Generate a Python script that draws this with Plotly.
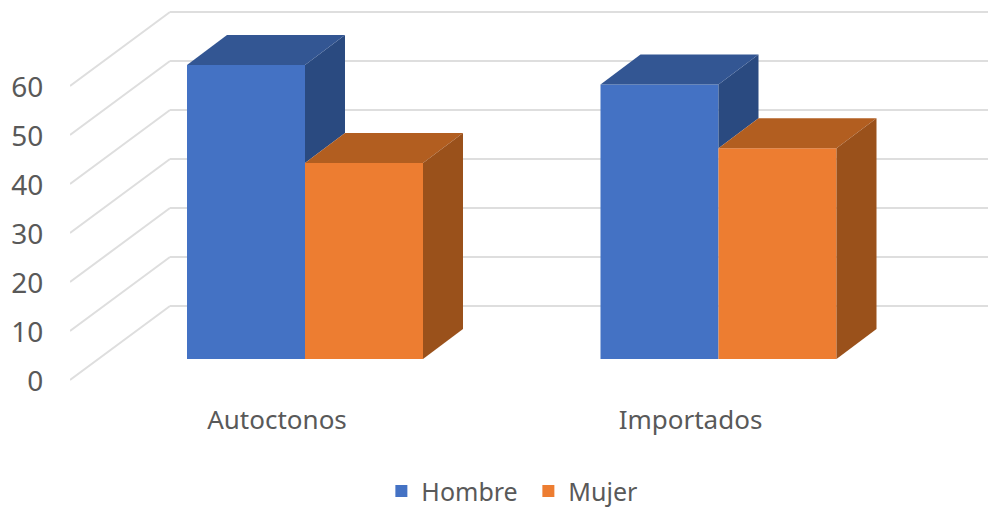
import plotly.graph_objects as go

categories = ["Autoctonos", "Importados"]
hombre = [60, 56]
mujer = [40, 43]
y_ticks = [0, 10, 20, 30, 40, 50, 60]

W, H = 988, 508
L, T_PLOT, B_PLOT = 70, 0, 400
PX_PER_VAL = 4.9
PX_PER_CAT = 413.5
CAT0_PX = 277
Y0_PX = 380

x_rng = [(L - CAT0_PX) / PX_PER_CAT, (W - CAT0_PX) / PX_PER_CAT]
y_rng = [(Y0_PX - B_PLOT) / PX_PER_VAL, (Y0_PX - T_PLOT) / PX_PER_VAL]

# depth vectors in axis units
WALL_DX, WALL_DY = 100 / PX_PER_CAT, 74 / PX_PER_VAL
BAR_SHIFT_DX, BAR_BASE = 28 / PX_PER_CAT, 21 / PX_PER_VAL
BAR_DX, BAR_DY = 40 / PX_PER_CAT, 30 / PX_PER_VAL
BAR_W = 118 / PX_PER_CAT

BLUE, BLUE_TOP, BLUE_SIDE = "#4472C4", "#335693", "#2A4A80"
ORANGE, ORANGE_TOP, ORANGE_SIDE = "#ED7D31", "#B25E20", "#9A511B"
GRID = "#DEDEDE"
TEXT = "#595959"
FONT = "Noto Sans"

shapes = []
for v in y_ticks:
    line = dict(color=GRID, width=2)
    shapes.append(dict(type="line", layer="below", xref="x", yref="y", line=line,
                       x0=x_rng[0], y0=v, x1=x_rng[0] + WALL_DX, y1=v + WALL_DY))
    shapes.append(dict(type="line", layer="below", xref="x", yref="y", line=line,
                       x0=x_rng[0] + WALL_DX, y0=v + WALL_DY, x1=x_rng[1], y1=v + WALL_DY))

fig = go.Figure()
cat_x = list(range(len(categories)))
left = [c + BAR_SHIFT_DX - BAR_W for c in cat_x]
mid = [c + BAR_SHIFT_DX for c in cat_x]
right = [c + BAR_SHIFT_DX + BAR_W for c in cat_x]

fig.add_bar(x=mid, y=hombre, base=BAR_BASE, width=BAR_W, offset=-BAR_W, name="Hombre",
            marker=dict(color=BLUE, line=dict(width=0)), hoverinfo="skip")
fig.add_bar(x=mid, y=mujer, base=BAR_BASE, width=BAR_W, offset=0, name="Mujer",
            marker=dict(color=ORANGE, line=dict(width=0)), hoverinfo="skip")


def face(xs, ys, color):
    fig.add_scatter(x=xs, y=ys, mode="lines", fill="toself", fillcolor=color,
                    line=dict(width=0, color=color), showlegend=False, hoverinfo="skip")


for i in cat_x:
    top_h = hombre[i] + BAR_BASE
    top_m = mujer[i] + BAR_BASE
    # Hombre side: visible only above the Mujer top face
    face([mid[i], mid[i] + BAR_DX, mid[i] + BAR_DX, mid[i], mid[i]],
         [top_h, top_h + BAR_DY, top_m + BAR_DY, top_m, top_h], BLUE_SIDE)
    face([left[i], left[i] + BAR_DX, mid[i] + BAR_DX, mid[i], left[i]],
         [top_h, top_h + BAR_DY, top_h + BAR_DY, top_h, top_h], BLUE_TOP)
    face([mid[i], mid[i] + BAR_DX, right[i] + BAR_DX, right[i], mid[i]],
         [top_m, top_m + BAR_DY, top_m + BAR_DY, top_m, top_m], ORANGE_TOP)
    face([right[i], right[i] + BAR_DX, right[i] + BAR_DX, right[i], right[i]],
         [top_m, top_m + BAR_DY, BAR_BASE + BAR_DY, BAR_BASE, top_m], ORANGE_SIDE)

fig.update_layout(
    width=W, height=H, margin=dict(l=L, r=0, t=T_PLOT, b=H - B_PLOT, pad=0),
    paper_bgcolor="white", plot_bgcolor="white", barmode="overlay", shapes=shapes,
    font=dict(family=FONT, size=26, color=TEXT),
    xaxis=dict(range=x_rng, tickmode="array", tickvals=cat_x, ticktext=categories,
               showgrid=False, zeroline=False, showline=False, ticks="", tickfont=dict(size=26),
               ticklabelstandoff=2),
    yaxis=dict(range=y_rng, tickmode="array", tickvals=y_ticks, showgrid=False, zeroline=False,
               showline=False, ticks="outside", ticklen=20, tickcolor="rgba(0,0,0,0)",
               tickfont=dict(size=28), ticklabelshift=1),
    legend=dict(orientation="h", x=0.386, xref="container", xanchor="left", y=0.033,
                yref="container", yanchor="middle", font=dict(size=25), itemwidth=30,
                entrywidth=102, entrywidthmode="pixels"),
)

fig.write_html("out.html", config={"displayModeBar": False},
               post_script="document.body.style.margin='0';document.body.style.overflow='hidden';")
